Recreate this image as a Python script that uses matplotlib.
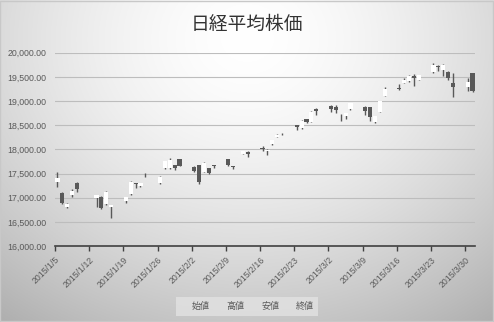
import numpy as np
import matplotlib
matplotlib.use("Agg")
import matplotlib.pyplot as plt
from datetime import date

plt.rcParams['font.family'] = ['Noto Sans CJK JP', 'DejaVu Sans']

dates = ["2015-01-05", "2015-01-06", "2015-01-07", "2015-01-08", "2015-01-09",
         "2015-01-13", "2015-01-14", "2015-01-15", "2015-01-16", "2015-01-19",
         "2015-01-20", "2015-01-21", "2015-01-22", "2015-01-23", "2015-01-26",
         "2015-01-27", "2015-01-28", "2015-01-29", "2015-01-30", "2015-02-02",
         "2015-02-03", "2015-02-04", "2015-02-05", "2015-02-06", "2015-02-09",
         "2015-02-10", "2015-02-12", "2015-02-13", "2015-02-16", "2015-02-17",
         "2015-02-18", "2015-02-19", "2015-02-20", "2015-02-23", "2015-02-24",
         "2015-02-25", "2015-02-26", "2015-02-27", "2015-03-02", "2015-03-03",
         "2015-03-04", "2015-03-05", "2015-03-06", "2015-03-09", "2015-03-10",
         "2015-03-11", "2015-03-12", "2015-03-13", "2015-03-16", "2015-03-17",
         "2015-03-18", "2015-03-19", "2015-03-20", "2015-03-23", "2015-03-24",
         "2015-03-25", "2015-03-26", "2015-03-27", "2015-03-30", "2015-03-31"]

open_ = [17326, 17095, 16800, 17060, 17310, 16990, 17020, 16862, 16815, 16930,
         17075, 17300, 17240, 17517, 17300, 17608, 17610, 17676, 17793, 17640,
         17670, 17538, 17607, 17670, 17793, 17655, 17903, 17950, 18030, 17975,
         18104, 18262, 18345, 18500, 18448, 18628, 18572, 18845, 18900, 18880,
         18720, 18700, 18828, 18880, 18880, 18572, 18779, 19103, 19260, 19380,
         19420, 19510, 19440, 19594, 19725, 19640, 19607, 19366, 19300, 19580]
high = [17541, 17111, 16880, 17170, 17330, 17060, 17030, 17138, 16850, 17020,
        17345, 17305, 17310, 17520, 17440, 17765, 17827, 17680, 17800, 17655,
        17675, 17732, 17615, 17676, 17800, 17658, 17970, 17958, 18069, 18000,
        18200, 18311, 18347, 18504, 18610, 18635, 18790, 18849, 18918, 18918,
        18725, 18760, 18960, 18897, 18885, 18700, 19000, 19300, 19345, 19483,
        19540, 19552, 19545, 19780, 19745, 19760, 19612, 19573, 19470, 19590]
low = [17219, 16868, 16790, 17005, 17125, 16815, 16760, 16855, 16585, 16900,
       17065, 17195, 17225, 17434, 17290, 17600, 17600, 17573, 17650, 17538,
       17277, 17535, 17495, 17607, 17660, 17593, 17895, 17848, 17972, 17883,
       18095, 18250, 18297, 18400, 18430, 18550, 18565, 18710, 18779, 18745,
       18593, 18620, 18820, 18710, 18590, 18538, 18775, 19095, 19228, 19366,
       19400, 19320, 19430, 19590, 19620, 19524, 19435, 19090, 19207, 19190]
close = [17409, 16883, 16870, 17140, 17180, 17055, 16796, 17108, 16850, 17014,
         17330, 17285, 17295, 17505, 17434, 17759, 17780, 17606, 17662, 17558,
         17318, 17710, 17504, 17655, 17676, 17645, 17966, 17913, 18005, 17995,
         18193, 18295, 18330, 18467, 18593, 18560, 18779, 18800, 18826, 18815,
         18704, 18745, 18952, 18790, 18665, 18690, 18995, 19242, 19246, 19437,
         19524, 19477, 19538, 19754, 19700, 19746, 19471, 19285, 19400, 19207]

tick_dates = ["2015-01-05", "2015-01-12", "2015-01-19", "2015-01-26", "2015-02-02",
              "2015-02-09", "2015-02-16", "2015-02-23", "2015-03-02", "2015-03-09",
              "2015-03-16", "2015-03-23", "2015-03-30"]
y_ticks = [16000, 16500, 17000, 17500, 18000, 18500, 19000, 19500, 20000]
legend_labels = ["始値", "高値", "安値", "終値"]
title = "日経平均株価"

W, H = 494, 322
fig = plt.figure(figsize=(W / 100, H / 100), dpi=100)

# background gradient
bg = fig.add_axes([0, 0, 1, 1], zorder=-10)
yy, xx = np.mgrid[0:1:200j, 0:1:300j]
r = np.sqrt(((xx - 0.5) / 0.75) ** 2 + ((yy - 0.12) / 1.0) ** 2)
g = 1.0 - 0.27 * np.clip(r, 0, 1.2) ** 1.6
img = np.dstack([g, g, g])
bg.imshow(img, aspect='auto', extent=[0, 1, 0, 1], origin='upper')
bg.set_xlim(0, 1); bg.set_ylim(0, 1)
bg.axis('off')
bg.add_patch(plt.Rectangle((0.001, 0.002), 0.997, 0.995, fill=False,
                           edgecolor='#c8c8c8', lw=1.0, transform=bg.transAxes))

x0, x1 = 55, 475
yb, yt = 246, 52.7
ax = fig.add_axes([x0 / W, (H - yb) / H, (x1 - x0) / W, (yb - yt) / H])
ax.set_facecolor('none')

d0 = date(2015, 1, 5)
def dnum(s):
    y, m, d = map(int, s.split('-'))
    return (date(y, m, d) - d0).days

xs = np.array([dnum(s) + 0.5 for s in dates])
o = np.array(open_); h = np.array(high); l = np.array(low); c = np.array(close)

dark = '#595959'
bw = 0.85
for xi, oi, hi, li, ci in zip(xs, o, h, l, c):
    ax.vlines(xi, li, hi, color=dark, lw=1.0, zorder=3)
    bot = min(oi, ci); ht = max(abs(ci - oi), 8)
    col = 'white' if ci >= oi else dark
    ax.add_patch(plt.Rectangle((xi - bw / 2, bot), bw, ht, facecolor=col,
                               edgecolor='none', zorder=4))

ax.set_xlim(0, 86)
ax.set_ylim(16000, 20000)
ax.set_yticks(y_ticks)
ax.set_yticklabels([f"{v:,.2f}" for v in y_ticks], fontsize=6.3, color='#595959',
                   family=['Liberation Sans', 'DejaVu Sans'])
ax.yaxis.grid(True, color='#bdbdbd', lw=0.8)
ax.set_axisbelow(True)
ax.tick_params(axis='y', length=0, pad=6)

tx = [dnum(s) for s in tick_dates]
ax.set_xticks(tx)
lbls = []
for s in tick_dates:
    y_, m_, d_ = s.split('-')
    lbls.append(f"{y_}/{int(m_)}/{int(d_)}")
ax.set_xticklabels(lbls, rotation=45, ha='right', rotation_mode='anchor',
                   fontsize=6.3, color='#595959', family=['Liberation Sans', 'DejaVu Sans'])
ax.tick_params(axis='x', length=3.5, color='#404040', width=1, pad=3, direction='out')

for sp in ['top', 'right', 'left']:
    ax.spines[sp].set_visible(False)
ax.spines['bottom'].set_color('#404040')
ax.spines['bottom'].set_linewidth(1.2)

fig.text(247 / W, 1 - 24 / H, title, ha='center', va='center', fontsize=13.5,
         color='#333333')

# legend
lx0, lx1, ly0, ly1 = 176, 318, 297, 316
bg.add_patch(plt.Rectangle((lx0 / W, 1 - ly1 / H), (lx1 - lx0) / W, (ly1 - ly0) / H,
                           facecolor='#e2e2e2', edgecolor='none', alpha=0.8))
for i, lab in enumerate(legend_labels):
    fig.text((201 + i * 34.7) / W, 1 - 306.5 / H, lab, ha='center', va='center',
             fontsize=6.5, color='#595959')

fig.savefig('out.png', dpi=100)
